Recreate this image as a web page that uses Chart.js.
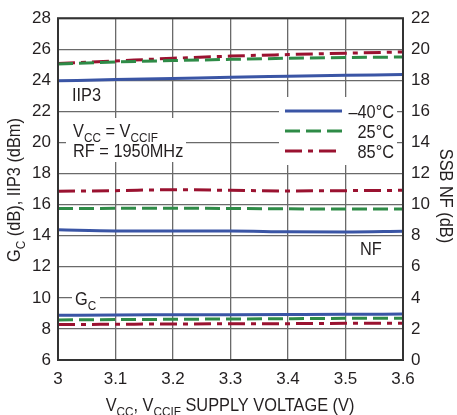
<!DOCTYPE html>
<html>
<head>
<meta charset="utf-8">
<script src="https://cdn.jsdelivr.net/npm/chart.js@4/dist/chart.umd.min.js"></script>
<style>
html,body{margin:0;padding:0;background:#fff;}
canvas{display:block;}
</style>
</head>
<body>
<canvas id="c" width="457" height="415"></canvas>
<script>
// ---- data ----
const voltages = [3.0, 3.1, 3.2, 3.3, 3.4, 3.5, 3.6];
const iip3_m40 = [23.97, 24.05, 24.12, 24.20, 24.26, 24.32, 24.38];
const iip3_25  = [25.06, 25.18, 25.27, 25.35, 25.42, 25.47, 25.50];
const iip3_85  = [25.08, 25.25, 25.42, 25.56, 25.66, 25.75, 25.83];
const nf_m40   = [8.38, 8.31, 8.30, 8.30, 8.25, 8.24, 8.29];
const nf_25    = [9.75, 9.76, 9.77, 9.75, 9.73, 9.72, 9.72];
const nf_85    = [10.86, 10.90, 10.96, 10.92, 10.88, 10.90, 10.92];
const gc_m40   = [8.88, 8.90, 8.91, 8.92, 8.93, 8.94, 8.96];
const gc_25    = [8.58, 8.60, 8.62, 8.64, 8.66, 8.68, 8.69];
const gc_85    = [8.28, 8.30, 8.32, 8.33, 8.34, 8.36, 8.37];
const legendLabels = ['\u201340\u00B0C', '25\u00B0C', '85\u00B0C'];

const FONT = "'Liberation Sans', Arial, sans-serif";
const TXT = '#231f20';
const colors = ['#3a55a5', '#2e8b47', '#9a1230'];
const dashes = [[], [15, 6], [17, 6, 5, 6]];
const SX = 0.86; // horizontal squeeze to mimic the condensed face

function pts(arr){ return voltages.map((v,i)=>({x:v, y:arr[i]})); }
function ds(arr, k, axis){
  return {data: pts(arr), borderColor: colors[k], borderWidth: 3, borderDash: dashes[k],
    pointRadius: 0, fill: false, yAxisID: axis, cubicInterpolationMode: 'monotone', borderCapStyle: 'butt'};
}

// draw text made of parts (with optional subscripts), squeezed horizontally
function drawRich(ctx, parts, x, y, size, align){
  const sub = size*0.72;
  let w = 0;
  parts.forEach(p=>{ ctx.font = (p.sub?sub:size)+'px '+FONT; w += ctx.measureText(p.t).width; });
  ctx.save();
  ctx.translate(x, y);
  ctx.scale(SX, 1);
  let cx = align==='center' ? -w/2 : (align==='right' ? -w : 0);
  parts.forEach(p=>{
    ctx.font = (p.sub?sub:size)+'px '+FONT;
    ctx.textAlign = 'left';
    ctx.textBaseline = 'alphabetic';
    ctx.fillText(p.t, cx, (p.sub ? size*0.25 : 0));
    cx += ctx.measureText(p.t).width;
  });
  ctx.restore();
}

const deco = {
  id: 'deco',
  beforeDatasetsDraw(chart){
    const ctx = chart.ctx;
    ctx.save();
    ctx.fillStyle = '#fff';
    ctx.fillRect(66, 118, 120, 44);   // condition text box
    ctx.fillRect(279, 97, 118, 68);   // legend box
    ctx.fillRect(72, 288, 28, 22);    // Gc label box
    ctx.restore();
  },
  afterDraw(chart){
    const ctx = chart.ctx;
    const a = chart.chartArea;
    ctx.save();
    ctx.strokeStyle = '#333';
    ctx.lineWidth = 2;
    ctx.strokeRect(a.left, a.top, a.right - a.left, a.bottom - a.top);
    ctx.fillStyle = TXT;
    // legend
    const ly = [111, 131, 151];
    for (let k=0;k<3;k++){
      ctx.beginPath();
      ctx.strokeStyle = colors[k];
      ctx.lineWidth = 3;
      ctx.setLineDash(dashes[k]);
      ctx.moveTo(285, ly[k]); ctx.lineTo(342, ly[k]);
      ctx.stroke();
      ctx.setLineDash([]);
      drawRich(ctx, [{t:legendLabels[k]}], 394, ly[k]+7, 19, 'right');
    }
    // annotations
    drawRich(ctx, [{t:'IIP3'}], 72, 101, 19, 'left');
    drawRich(ctx, [{t:'V'},{t:'CC',sub:true},{t:' = V'},{t:'CCIF',sub:true}], 73, 137, 19, 'left');
    drawRich(ctx, [{t:'RF = 1950MHz'}], 73, 157, 19, 'left');
    drawRich(ctx, [{t:'NF'}], 360, 255, 19, 'left');
    drawRich(ctx, [{t:'G'},{t:'C',sub:true}], 75, 305, 19, 'left');
    // x title
    drawRich(ctx, [{t:'V'},{t:'CC',sub:true},{t:', V'},{t:'CCIF',sub:true},{t:' SUPPLY VOLTAGE (V)'}], 230, 411, 19, 'center');
    // left title
    ctx.save();
    ctx.translate(20, 190);
    ctx.rotate(-Math.PI/2);
    drawRich(ctx, [{t:'G'},{t:'C',sub:true},{t:' (dB), IIP3 (dBm)'}], 0, 0, 19, 'center');
    ctx.restore();
    // right title
    ctx.save();
    ctx.translate(440, 196);
    ctx.rotate(Math.PI/2);
    drawRich(ctx, [{t:'SSB NF (dB)'}], 0, 0, 19, 'center');
    ctx.restore();
    ctx.restore();
  }
};

const gridColor = '#6a6a6a';
const tickFont = {family: FONT, size: 17};
new Chart(document.getElementById('c'), {
  type: 'line',
  data: {
    datasets: [
      ds(iip3_m40,0,'y'), ds(iip3_25,1,'y'), ds(iip3_85,2,'y'),
      ds(nf_m40,0,'y2'), ds(nf_25,1,'y2'), ds(nf_85,2,'y2'),
      ds(gc_m40,0,'y'), ds(gc_25,1,'y'), ds(gc_85,2,'y')
    ]
  },
  options: {
    responsive: false,
    animation: false,
    events: [],
    layout: {padding: {top: 16, left: 0, right: 0, bottom: 0}},
    plugins: {legend: {display: false}, tooltip: {enabled: false}},
    scales: {
      x: {
        type: 'linear', min: 3, max: 3.6,
        afterFit(s){ s.height = 55; },
        afterBuildTicks(s){ s.ticks = voltages.map(v=>({value:v})); },
        ticks: {
          padding: 9, color: TXT, font: tickFont, maxRotation: 0, autoSkip: false,
          callback: v => String(Math.round(v*10)/10)
        },
        grid: {color: gridColor, lineWidth: 1.3, drawTicks: false},
        border: {display: false}
      },
      y: {
        position: 'left', min: 6, max: 28,
        afterFit(s){ s.width = 58; },
        ticks: {stepSize: 2, padding: 7, color: TXT, font: tickFont},
        grid: {color: gridColor, lineWidth: 1.3, drawTicks: false},
        border: {display: false}
      },
      y2: {
        position: 'right', min: 0, max: 22,
        afterFit(s){ s.width = 54; },
        ticks: {stepSize: 2, padding: 8, color: TXT, font: tickFont},
        grid: {drawOnChartArea: false, drawTicks: false},
        border: {display: false}
      }
    }
  },
  plugins: [deco]
});
</script>
</body>
</html>
